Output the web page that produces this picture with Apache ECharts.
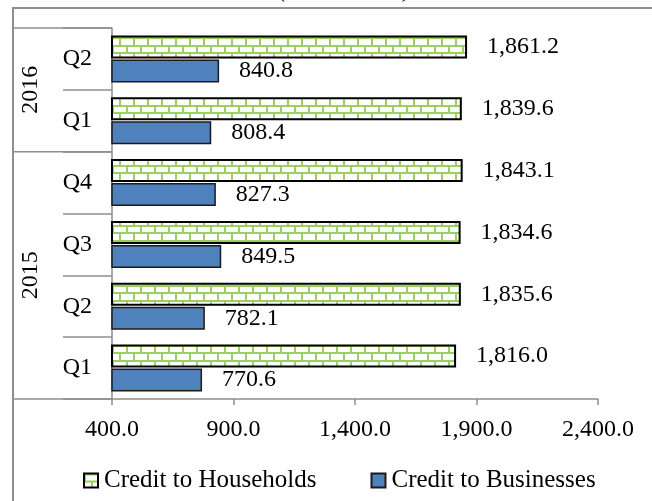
<!DOCTYPE html>
<html>
<head>
<meta charset="utf-8">
<script src="https://cdn.jsdelivr.net/npm/echarts@6/dist/echarts.min.js"></script>
<style>
  html, body { margin: 0; padding: 0; background: #fff; }
  #c1 { width: 652px; height: 501px; }
</style>
</head>
<body>
<div id="c1"></div>
<script>
// data, bottom to top
var quarters = ["Q1", "Q2", "Q3", "Q4", "Q1", "Q2"];
var years = ["2015", "2015", "2015", "2015", "2016", "2016"];
var households = [1816.0, 1835.6, 1834.6, 1843.1, 1839.6, 1861.2];
var businesses = [770.6, 782.1, 849.5, 827.3, 808.4, 840.8];
var seriesNames = ["Credit to Households", "Credit to Businesses"];
var xMin = 400, xMax = 2400, xStep = 500;

var cats = [];
for (var i = 0; i < quarters.length; i++) {
  cats.push(years[i] + " " + quarters[i]);
}

var gridLeft = 112;
var boxLeft = 14;
var grey = "#8e8e8e";

function fmt(v) {
  var s = Number(v).toFixed(1).split(".");
  return s[0].replace(/\B(?=(\d{3})+(?!\d))/g, ",") + "." + s[1];
}

// brick pattern, like the excel fill
function brick() {
  var c = document.createElement("canvas");
  c.width = 14;
  c.height = 15;
  var g = c.getContext("2d");
  g.fillStyle = "#ffffff";
  g.fillRect(0, 0, 14, 15);
  g.fillStyle = "#9ccf5d";
  g.fillRect(0, 0, 14, 2);
  g.fillRect(0, 7, 14, 2);
  g.fillRect(0, 2, 2, 5);
  g.fillRect(7, 9, 2, 6);
  return c;
}

var myChart = echarts.init(document.getElementById("c1"));

var option = {
  animation: false,
  textStyle: { fontFamily: "Liberation Serif", color: "#000" },
  title: {
    text: "(EUR billion)",
    left: 272,
    top: -26,
    textStyle: { fontFamily: "Liberation Serif", fontSize: 24, fontWeight: "normal", color: "#000" },
  },
  legend: {
    data: seriesNames,
    left: 78,
    top: 463,
    icon: "rect",
    itemWidth: 14,
    itemHeight: 14,
    itemGap: 54,
    textStyle: { fontSize: 25, color: "#000", padding: [0, 0, 0, 1] },
  },
  grid: { left: gridLeft, right: 54, top: 28, bottom: 102, containLabel: false },
  xAxis: {
    type: "value",
    min: xMin,
    max: xMax,
    interval: xStep,
    axisLine: { show: true, lineStyle: { color: grey, width: 1.5 } },
    axisTick: { show: true, length: 6, lineStyle: { color: grey, width: 1.5 } },
    splitLine: { show: false },
    axisLabel: { margin: 19, fontSize: 24, color: "#000", formatter: fmt },
  },
  yAxis: {
    type: "category",
    data: cats,
    axisLine: { show: true, lineStyle: { color: grey, width: 1.5 } },
    axisTick: { show: true, length: gridLeft - 63, interval: 0, lineStyle: { color: grey, width: 1.5 } },
    axisLabel: {
      margin: 20,
      fontSize: 24,
      color: "#000",
      interval: 0,
      formatter: function (v) { return v.split(" ")[1]; },
    },
  },
  series: [
    {
      name: seriesNames[0],
      type: "bar",
      data: households,
      barWidth: 23,
      barGap: "4%",
      itemStyle: {
        color: { image: brick(), repeat: "repeat" },
        borderColor: "#000",
        borderWidth: 2,
      },
      label: {
        show: true,
        position: "right",
        distance: 20,
        fontSize: 24,
        color: "#000",
        formatter: function (p) { return fmt(p.value); },
      },
    },
    {
      name: seriesNames[1],
      type: "bar",
      data: businesses,
      barWidth: 23,
      barGap: "4%",
      itemStyle: { color: "#4f81bd", borderColor: "#1b1b1b", borderWidth: 1.5 },
      label: {
        show: true,
        position: "right",
        distance: 20,
        fontSize: 24,
        color: "#000",
        formatter: function (p) { return fmt(p.value); },
      },
    },
  ],
};
myChart.setOption(option);

// year groups on the left, placed from the category axis
var py = function (i) { return myChart.convertToPixel({ yAxisIndex: 0 }, cats[i]); };
var band = Math.abs(py(0) - py(1));
var graphics = [
  {
    type: "rect",
    shape: { x: 13, y: 8, width: 700, height: 600 },
    style: { fill: "none", stroke: grey, lineWidth: 2 },
    silent: true,
  },
];
var lineAt = function (y) {
  graphics.push({
    type: "line",
    shape: { x1: boxLeft, y1: y, x2: gridLeft, y2: y },
    style: { stroke: grey, lineWidth: 1.5 },
    silent: true,
  });
};
var start = 0;
for (var j = 1; j <= years.length; j++) {
  if (j == years.length || years[j] != years[start]) {
    var yLow = py(start) + band / 2;
    var yHigh = py(j - 1) - band / 2;
    lineAt(yLow);
    if (j == years.length) lineAt(yHigh);
    graphics.push({
      type: "text",
      x: 31,
      y: (yLow + yHigh) / 2,
      rotation: Math.PI / 2,
      style: {
        text: years[start],
        fontFamily: "Liberation Serif",
        fontSize: 24,
        fill: "#000",
        align: "center",
        verticalAlign: "middle",
      },
      silent: true,
    });
    start = j;
  }
}
myChart.setOption({ graphic: graphics });
</script>
</body>
</html>
